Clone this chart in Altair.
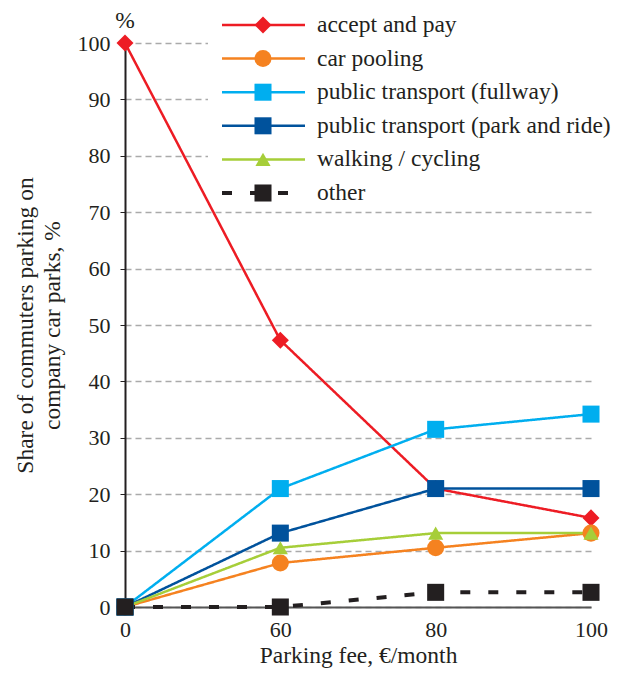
import altair as alt
import pandas as pd

# ---- data ----
fees = ["0", "60", "80", "100"]
series = [
    "accept and pay",
    "car pooling",
    "public transport (fullway)",
    "public transport (park and ride)",
    "walking / cycling",
    "other",
]
accept_and_pay = [100.0, 47.3, 21.0, 15.8]
car_pooling = [0.0, 7.8, 10.5, 13.1]
pt_fullway = [0.0, 21.0, 31.5, 34.2]
pt_park_ride = [0.0, 13.1, 21.0, 21.0]
walking_cycling = [0.0, 10.5, 13.1, 13.1]
other = [0.0, 0.0, 2.6, 2.6]
y_ticks = [0, 10, 20, 30, 40, 50, 60, 70, 80, 90, 100]

# ---- styles ----
colors = ["#ED1C24", "#F58220", "#00AEEF", "#00529C", "#A6CE39", "#231F20"]
shapes = ["diamond", "circle", "square", "square", "triangle-up", "square"]
dashes = [[1, 0], [1, 0], [1, 0], [1, 0], [1, 0], [10, 18]]
FONT = "Liberation Serif"
TXT = "#231F20"

values = [accept_and_pay, car_pooling, pt_fullway, pt_park_ride, walking_cycling, other]
rows = []
for s, vals in zip(series, values):
    for f, v in zip(fees, vals):
        rows.append({"series": s, "fee": f, "value": v})
df = pd.DataFrame(rows)

x_enc = alt.X(
    "fee:O",
    sort=fees,
    scale=alt.Scale(type="point", domain=fees, padding=0),
    axis=alt.Axis(
        title="Parking fee, €/month",
        labelAngle=0,
        ticks=False,
        grid=False,
        domainColor="#555555",
        domainWidth=2,
        labelPadding=12,
        labelFont=FONT,
        labelFontSize=22,
        labelColor=TXT,
        titleFont=FONT,
        titleFontSize=23.5,
        titleFontWeight="normal",
        titleColor=TXT,
        titlePadding=3,
    ),
)
y_enc = alt.Y(
    "value:Q",
    scale=alt.Scale(domain=[0, 100], nice=False),
    axis=alt.Axis(
        title=["Share of commuters parking on", "company car parks, %"],
        values=y_ticks,
        grid=True,
        gridDash=[6, 4],
        gridColor="#aaaaaa",
        gridWidth=1.5,
        domainColor=TXT,
        domainWidth=2,
        tickColor=TXT,
        tickSize=5,
        labelPadding=10,
        labelFont=FONT,
        labelFontSize=22,
        labelColor=TXT,
        titleFont=FONT,
        titleFontSize=23.5,
        titleFontWeight="normal",
        titleColor=TXT,
        titleAngle=-90,
        titleX=-112,
        titleY=282,
        titleAlign="center",
        titleBaseline="top",
        titleLineHeight=27,
    ),
)
color_enc = alt.Color("series:N", scale=alt.Scale(domain=series, range=colors), legend=None)
shape_enc = alt.Shape("series:N", scale=alt.Scale(domain=series, range=shapes), legend=None)
dash_enc = alt.StrokeDash("series:N", scale=alt.Scale(domain=series, range=dashes), legend=None)
width_enc = alt.condition(alt.datum.series == "other", alt.value(4), alt.value(2.5))
size_enc = alt.condition(alt.datum.series == "walking / cycling", alt.value(230), alt.value(290))

# white legend background, drawn above the grid but under the lines
bg = alt.Chart(pd.DataFrame({"k": [0]})).mark_rect(color="white").encode(
    x=alt.value(83), x2=alt.value(520), y=alt.value(-43), y2=alt.value(162)
)

base = alt.Chart(df)
lines = base.mark_line().encode(
    x=x_enc, y=y_enc, color=color_enc, strokeDash=dash_enc, strokeWidth=width_enc,
    detail="series:N",
)
points = base.mark_point(filled=True, opacity=1, strokeWidth=0).encode(
    x=x_enc, y=y_enc, color=color_enc, shape=shape_enc, size=size_enc
)
pct = alt.Chart(pd.DataFrame({"fee": ["0"], "value": [102.7], "label": ["%"]})).mark_text(
    font=FONT, fontSize=23.5, color=TXT, baseline="alphabetic", align="center"
).encode(x=x_enc, y=y_enc, text="label:N")

main = alt.layer(bg, lines, points, pct)

# ---- legend drawn as marks ----
leg_df = pd.DataFrame({"series": series})
leg_y = alt.Y(
    "series:N",
    sort=series,
    scale=alt.Scale(type="point", domain=series, range=[-18, 150], padding=0),
    axis=None,
)
leg_lines = alt.Chart(leg_df).mark_rule().encode(
    x=alt.value(97), x2=alt.value(180), y=leg_y, color=color_enc,
    strokeDash=dash_enc, strokeWidth=width_enc,
)
leg_points = alt.Chart(leg_df).mark_point(filled=True, opacity=1, strokeWidth=0).encode(
    x=alt.value(138), y=leg_y, color=color_enc, shape=shape_enc, size=size_enc
)
leg_text = alt.Chart(leg_df).mark_text(
    font=FONT, fontSize=23.5, color=TXT, align="left", baseline="middle"
).encode(x=alt.value(192), y=leg_y, text="series:N")
legend = alt.layer(leg_lines, leg_points, leg_text)

chart = (
    alt.layer(main, legend)
    .resolve_scale(y="independent", x="independent")
    .properties(
        width=466,
        height=564,
        autosize=alt.AutoSizeParams(type="none"),
        padding={"left": 117, "top": 35, "right": 34, "bottom": 61},
        background="white",
    )
    .configure_view(strokeWidth=0)
)

chart.save("out.html", embed_options={"renderer": "svg", "actions": False})
